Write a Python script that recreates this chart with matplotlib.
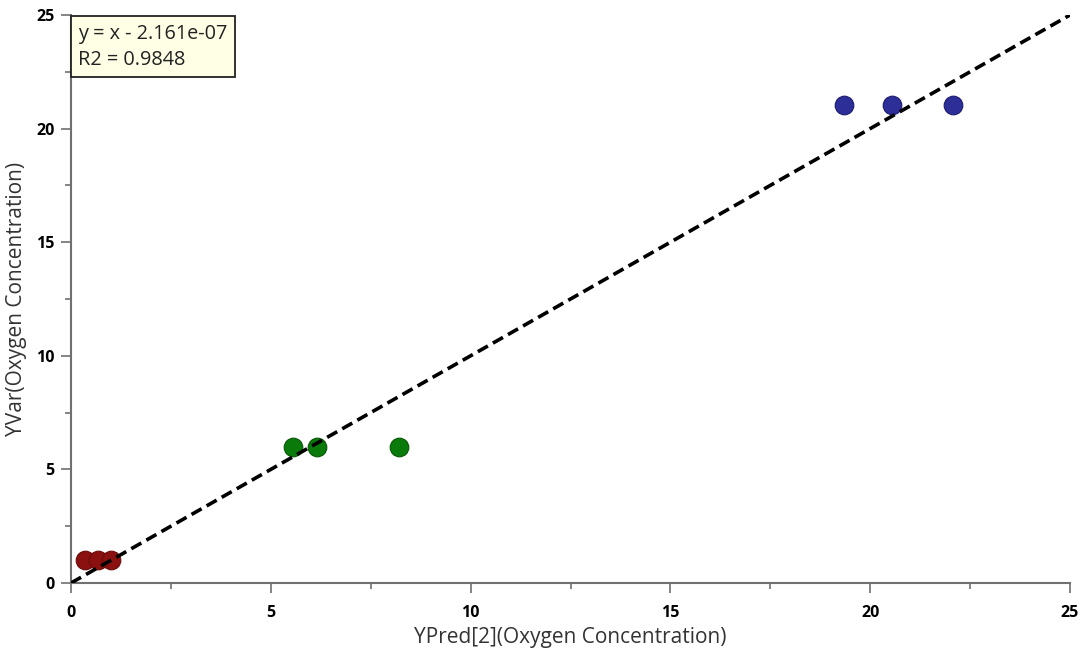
import matplotlib
matplotlib.use("Agg")
import matplotlib.pyplot as plt
from matplotlib.ticker import MultipleLocator

plt.rcParams['font.family'] = ['Open Sans', 'DejaVu Sans']

red_x = [0.35, 0.68, 1.0]
red_y = [1.0, 1.0, 1.0]
green_x = [5.55, 6.15, 8.22]
green_y = [6.0, 6.0, 6.0]
blue_x = [19.35, 20.55, 22.08]
blue_y = [21.05, 21.05, 21.05]
fit_x = [0, 25]
fit_y = [0, 25]
xticks = [0, 5, 10, 15, 20, 25]
yticks = [0, 5, 10, 15, 20, 25]
eq_text = "y = x - 2.161e-07\nR2 = 0.9848"

fig = plt.figure(figsize=(10.87, 6.6), dpi=100)
ax = fig.add_axes([71/1087, 77/660, 999/1087, 568/660])

ax.plot(fit_x, fit_y, color='black', lw=2.6, ls=(0, (3.2, 1.6)), zorder=3)
ax.scatter(red_x, red_y, s=180, c='#8b1010', edgecolors='#6a0c0c', linewidths=0.8, zorder=2)
ax.scatter(green_x, green_y, s=180, c='#0a7a0a', edgecolors='#065806', linewidths=0.8, zorder=2)
ax.scatter(blue_x, blue_y, s=180, c='#2e2e98', edgecolors='#1c1c70', linewidths=0.8, zorder=2)

ax.set_xlim(0, 25)
ax.set_ylim(0, 25)
ax.set_xticks(xticks)
ax.set_yticks(yticks)
ax.xaxis.set_minor_locator(MultipleLocator(2.5))
ax.yaxis.set_minor_locator(MultipleLocator(2.5))
for s in ['top', 'right']:
    ax.spines[s].set_visible(False)
for s in ['left', 'bottom']:
    ax.spines[s].set_color('#707070')
    ax.spines[s].set_linewidth(1.5)
ax.tick_params(which='major', length=7, width=1.2, color='#707070', labelsize=11.5)
ax.tick_params(axis='x', which='major', pad=9)
ax.tick_params(axis='y', which='major', pad=5)
ax.tick_params(which='minor', length=4, width=1.2, color='#707070')
for lab in ax.get_xticklabels() + ax.get_yticklabels():
    lab.set_fontweight('bold')

ax.set_xlabel("YPred[2](Oxygen Concentration)", fontsize=15, color='#333333', labelpad=4)
ax.set_ylabel("YVar(Oxygen Concentration)", fontsize=15, color='#333333')
ax.yaxis.set_label_coords(-0.044, 0.5)

ax.text(0.0075, 0.985, eq_text, transform=ax.transAxes, ha='left', va='top',
        fontsize=14.3, color='#222222', linespacing=1.42,
        bbox=dict(boxstyle='square,pad=0.38', facecolor='#ffffe6', edgecolor='#222222', linewidth=1.3),
        zorder=5)

fig.savefig("out.png", dpi=100)
